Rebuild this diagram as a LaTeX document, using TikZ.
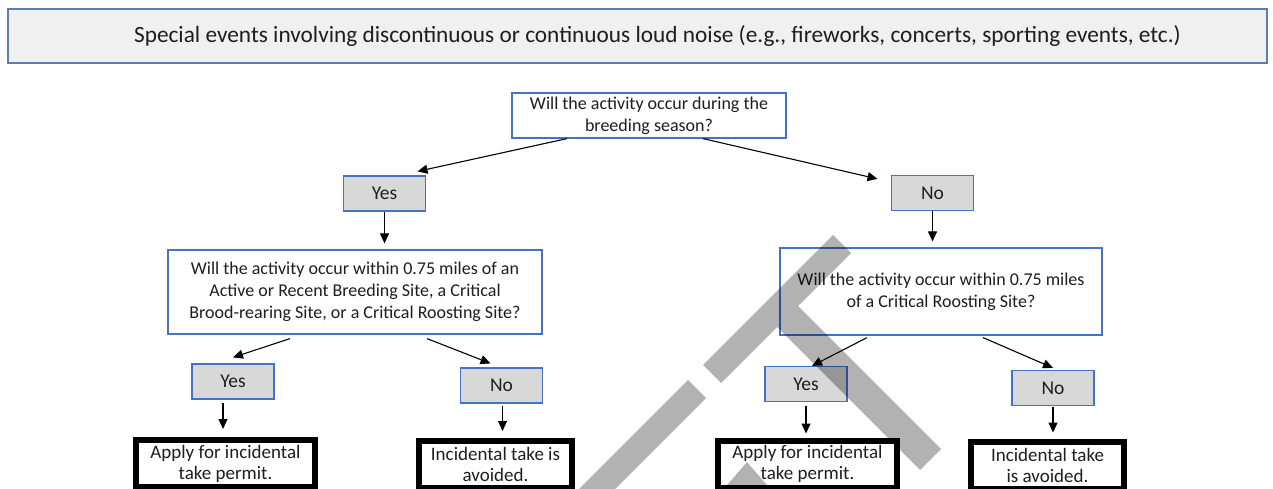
\documentclass[tikz,border=0pt]{standalone}
\usepackage{fontspec}
\setmainfont{Carlito}
\usetikzlibrary{arrows.meta}
\definecolor{boxblue}{RGB}{68,114,196}
\definecolor{titleblue}{RGB}{96,125,175}
\definecolor{ynfill}{RGB}{216,216,216}
\definecolor{titlefill}{RGB}{240,240,240}
\definecolor{txt}{RGB}{30,30,30}
\begin{document}
\begin{tikzpicture}[x=1pt,y=-1pt,
  titlebox/.style={draw=titleblue, line width=1.2pt, fill=titlefill, inner sep=0pt,
    minimum width=1259pt, minimum height=54pt, text=txt, font=\fontsize{23.3}{26}\selectfont},
  qbox/.style={draw=boxblue, line width=1.2pt, fill=white, align=center, inner sep=0pt,
    text=txt, font=\fontsize{18}{22}\selectfont},
  ynbox/.style={draw=boxblue, line width=1.2pt, fill=ynfill, inner sep=0pt,
    minimum width=82pt, minimum height=35pt, text=txt, font=\fontsize{19.5}{22}\selectfont},
  endbox/.style={draw=black, line width=6pt, fill=white, align=center, inner sep=0pt,
    minimum height=47pt, text=txt, font=\fontsize{19}{21}\selectfont},
  arr/.style={draw=black, line width=1.1pt, -{Triangle[length=10pt,width=9pt]}},
  wm/.style={fill=black, fill opacity=0.3, draw=none}
]
\useasboundingbox (0,0) rectangle (1273,488);
\clip (0,0) rectangle (1273,488);
\fill[white] (0,0) rectangle (1273,488);

% title
\node[titlebox] (title) at (637.5,36) {\hspace*{40pt}Special events involving discontinuous or continuous loud noise (e.g., fireworks, concerts, sporting events, etc.)};

% questions
\node[qbox, minimum width=274pt, minimum height=45pt] (q1) at (649,115.5)
  {Will the activity occur during the\\breeding season?};
\node[qbox, minimum width=374pt, minimum height=84pt] (q2) at (355,292)
  {Will the activity occur within 0.75 miles of an\\Active or Recent Breeding Site, a Critical\\Brood-rearing Site, or a Critical Roosting Site?};
\node[qbox, minimum width=322pt, minimum height=87pt] (q3) at (941,291.5)
  {Will the activity occur within 0.75 miles\\of a Critical Roosting Site?};

% yes / no
\node[ynbox] (yes1) at (384.5,193.5) {Yes};
\node[ynbox] (no1) at (932.5,193) {No};
\node[ynbox] (yes2) at (233,381.5) {Yes};
\node[ynbox] (no2) at (501.5,385.5) {No};
\node[ynbox] (yes3) at (806,384) {Yes};
\node[ynbox] (no3) at (1053,388) {No};

% outcomes
\node[endbox, minimum width=179pt] (f1) at (225.5,463.5) {Apply for incidental\\take permit.};
\node[endbox, minimum width=153pt] (f2) at (495.5,464.5) {Incidental take is\\avoided.};
\node[endbox, minimum width=179pt] (f3) at (807.5,464) {Apply for incidental\\take permit.};
\node[endbox, minimum width=153pt] (f4) at (1047.5,465) {Incidental take\\is avoided.};

% connectors
\draw[arr] ([xshift=-82pt]q1.south) -- ([xshift=33pt,yshift=4pt]yes1.north);
\draw[arr] ([xshift=54pt]q1.south) -- ([xshift=-55pt,yshift=-4pt]no1.north);
\draw[arr, shorten >=6pt] (yes1.south) -- (yes1.south |- q2.north);
\draw[arr, shorten >=6pt] (no1.south) -- (no1.south |- q3.north);
\draw[arr] ([xshift=-65pt,yshift=-4pt]q2.south) -- ([yshift=6pt]yes2.north);
\draw[arr] ([xshift=72pt,yshift=-4pt]q2.south) -- ([xshift=-11pt,yshift=4pt]no2.north);
\draw[arr, shorten <=3pt, shorten >=8pt] ([xshift=-10pt]yes2.south) -- ([xshift=-10pt]yes2.south |- f1.north);
\draw[arr, shorten <=2pt, shorten >=7pt] ([xshift=1pt]no2.south) -- ([xshift=1pt]no2.south |- f2.north);
\draw[arr, shorten <=4pt, shorten >=4pt] (yes3.south) -- (yes3.south |- f3.north);
\draw[arr, shorten <=1pt, shorten >=6pt] (no3.south) -- (no3.south |- f4.north);
\draw[arr] ([xshift=-74pt,yshift=-2pt]q3.south) -- ([xshift=6pt]yes3.north);
\draw[arr] ([xshift=42pt,yshift=-2pt]q3.south) -- ([yshift=2pt]no3.north);

% watermark
\path[wm] (688,380) -- (706,398) -- (578,526) -- (560,508) -- cycle;
\path[wm] (703,365) -- (833,235) -- (851,253) -- (798,306) -- (941,449) -- (920,470)
  -- (777,327) -- (721,383) -- cycle;
\path[wm] (722,491) -- (747,462) -- (772,491) -- cycle;
\end{tikzpicture}
\end{document}
